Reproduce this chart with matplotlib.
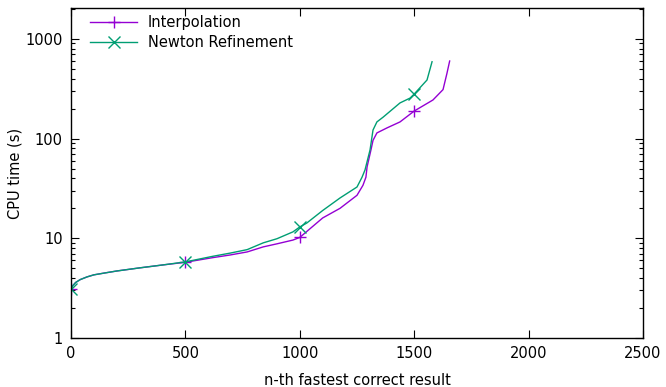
import matplotlib
matplotlib.use("Agg")
import matplotlib.pyplot as plt
from matplotlib.ticker import LogLocator, FixedLocator, NullFormatter

interp_x = [0, 8, 20, 40, 70, 100, 150, 200, 300, 400, 500, 620, 695, 770, 840, 900, 970,
            1000, 1045, 1100, 1176, 1250, 1276, 1289, 1294, 1311, 1320, 1337, 1381, 1438,
            1500, 1582, 1626, 1643, 1655]
interp_y = [3.1, 3.35, 3.6, 3.85, 4.1, 4.3, 4.5, 4.7, 5.05, 5.4, 5.75, 6.4, 6.8, 7.3, 8.2,
            8.8, 9.6, 10.2, 12.5, 16, 20, 27, 34, 41, 52, 77, 96, 114, 128, 147,
            189, 244, 310, 450, 600]

newton_x = [0, 8, 20, 40, 70, 100, 150, 200, 300, 400, 500, 620, 695, 770, 840, 900, 970,
            1000, 1030, 1100, 1176, 1250, 1272, 1285, 1307, 1320, 1337, 1364, 1438, 1482,
            1500, 1556, 1578]
newton_y = [3.1, 3.35, 3.6, 3.85, 4.1, 4.3, 4.5, 4.7, 5.05, 5.4, 5.8, 6.6, 7.1, 7.7, 9.0,
            9.9, 11.6, 13, 14.2, 19, 25.4, 32.7, 41, 48.5, 77, 122, 147, 164, 228, 255,
            280, 387, 590]

x_ticks = [0, 500, 1000, 1500, 2000, 2500]
y_ticks = [1, 10, 100, 1000]
y_tick_labels = ["1", "10", "100", "1000"]

purple = "#9400D3"
green = "#009E73"

plt.rcParams['font.family'] = ['DejaVu Sans']
plt.rcParams['font.size'] = 10.5

fig = plt.figure(figsize=(6.66, 3.87), dpi=100)
ax = fig.add_axes([71/666, 49/387, 572/666, 330/387])

def marks(xs):
    return [i for i, v in enumerate(xs) if v % 500 == 0]

ax.plot(interp_x, interp_y, color=purple, lw=1.0, marker='+', markersize=8.5,
        markeredgewidth=1.0, markevery=marks(interp_x), label="Interpolation")
ax.plot(newton_x, newton_y, color=green, lw=1.0, marker='x', markersize=8.5,
        markeredgewidth=1.0, markevery=marks(newton_x), label="Newton Refinement")

ax.set_yscale('log')
ax.set_xlim(0, 2500)
ax.set_ylim(1, 10 ** (330 / 99.7))
ax.xaxis.set_major_locator(FixedLocator(x_ticks))
ax.set_yticks(y_ticks)
ax.set_yticklabels(y_tick_labels)
ax.yaxis.set_minor_locator(LogLocator(base=10, subs=range(2, 10)))
ax.yaxis.set_minor_formatter(NullFormatter())

ax.tick_params(which='major', direction='in', length=6, width=0.8, top=True, right=True,
               pad=6, labelsize=10.5, colors='black')
ax.tick_params(which='minor', direction='in', length=3, width=0.8, top=False, right=True)
ax.tick_params(axis='x', which='minor', bottom=False, top=False)
for s in ax.spines.values():
    s.set_linewidth(1.0)

ax.set_xlabel("n-th fastest correct result", labelpad=8.5)
ax.set_ylabel("CPU time (s)", labelpad=2)

leg = ax.legend(loc='upper left', frameon=False, handlelength=3.2, borderaxespad=0.2,
                handletextpad=0.75, labelspacing=0.35, borderpad=0.3)
leg.set_bbox_to_anchor((12/572, 1.0), transform=ax.transAxes)

fig.savefig("out.png", dpi=100)
